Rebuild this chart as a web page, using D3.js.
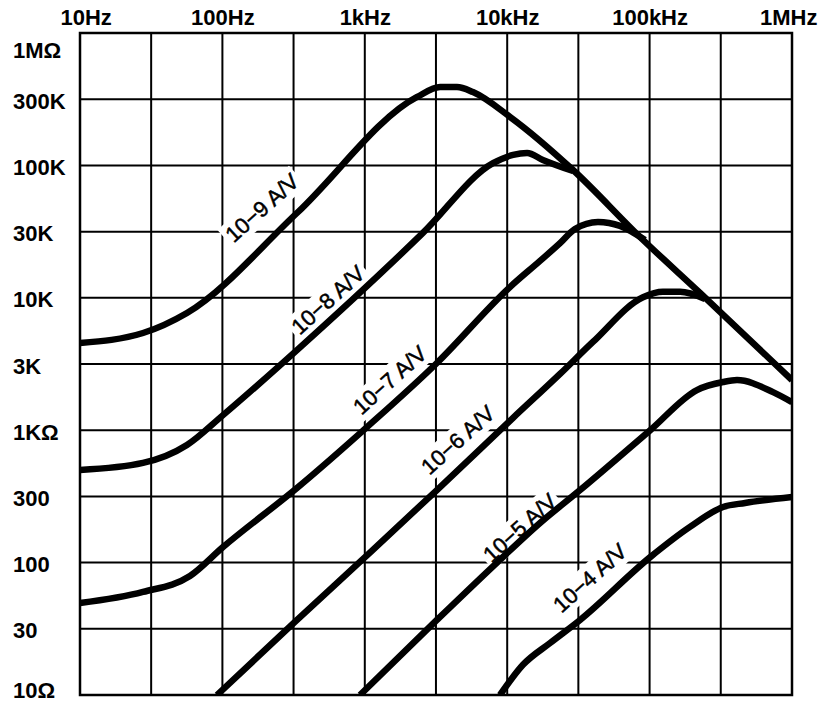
<!DOCTYPE html>
<html lang="en">
<head>
<meta charset="UTF-8">
<title>Transimpedance vs frequency</title>
<script src="https://d3js.org/d3.v7.min.js"></script>
<style>
  body { margin: 0; background: #fff; }
</style>
</head>
<body>
<div id="chart"></div>
<script>
// grid at half decades, labels on them
var xTicks = [10, 31.6, 100, 316, 1e3, 3160, 1e4, 31600, 1e5, 316000, 1e6];
var xLabels = ["10Hz", "", "100Hz", "", "1kHz", "", "10kHz", "", "100kHz", "", "1MHz"];
var yTicks = [10, 31.6, 100, 316, 1e3, 3160, 1e4, 31600, 1e5, 316000, 1e6];
var yLabels = ["10\u03A9", "30", "100", "300", "1K\u03A9", "3K", "10K", "30K", "100K", "300K", "1M\u03A9"];

// curves: [frequency (Hz), impedance (ohm)]
var gain9 = [[10, 4560], [27.7, 5420], [56.4, 7680], [334, 43700], [2330, 329000], [3380, 391000],
             [4440, 391000], [5750, 358000], [10500, 232000], [29000, 92300], [85600, 28800],
             [226000, 10900], [1000000, 2390]];
var gain8 = [[10, 501], [27.7, 566], [56.4, 773], [101, 1300], [334, 4030], [2560, 30900],
             [7950, 104000], [11000, 120000], [13800, 124000], [17800, 110000], [29000, 90700]];
var gain7 = [[10, 49.5], [27.7, 60], [59.2, 79.2], [101, 131], [334, 366], [1040, 1060],
             [3210, 3220], [10500, 12100], [17000, 19000], [23500, 25900], [29900, 33100],
             [43400, 37400], [62000, 34900], [92800, 27300]];
var gain6 = [[91.6, 10], [323, 35.6], [1040, 114], [3210, 353], [11000, 1240], [23500, 2660],
             [40000, 4640], [89900, 10100], [124000, 11100], [164000, 11100], [245000, 9790]];
var gain5 = [[925, 10], [3210, 36.9], [8900, 105], [17000, 199], [32500, 353], [101000, 1000],
             [215000, 2010], [328000, 2310], [411000, 2390], [736000, 1940], [1000000, 1630]];
var gain4 = [[8900, 10], [12900, 16.9], [20000, 24.7], [32500, 36.9], [101000, 110],
             [192000, 186], [328000, 263], [468000, 282], [1000000, 313]];

var curves = [gain9, gain8, gain7, gain6, gain5, gain4];
var curveNames = ["10\u22129 A/V", "10\u22128 A/V", "10\u22127 A/V", "10\u22126 A/V", "10\u22125 A/V", "10\u22124 A/V"];
// label centres [frequency, impedance]
var labelAt = [[190, 47700], [552, 9620], [1500, 2390], [4510, 843], [12300, 183], [38100, 76.5]];

var margin = {top: 33, right: 27, bottom: 7, left: 80},
    width = 819 - margin.left - margin.right,
    height = 702 - margin.top - margin.bottom;

var svg = d3.select("#chart")
    .append("svg")
    .attr("width", width + margin.left + margin.right)
    .attr("height", height + margin.top + margin.bottom)
    .append("g")
    .attr("transform", "translate(" + margin.left + "," + margin.top + ")");

var x = d3.scaleLog().domain([10, 1e6]).range([0, width]);
var y = d3.scaleLog().domain([10, 1e6]).range([height, 0]);

// grid
svg.append("g")
    .selectAll("line")
    .data(xTicks)
    .join("line")
    .attr("x1", function(d) { return x(d); })
    .attr("x2", function(d) { return x(d); })
    .attr("y1", 0)
    .attr("y2", height)
    .attr("stroke", "#000")
    .attr("stroke-width", 2);

svg.append("g")
    .selectAll("line")
    .data(yTicks)
    .join("line")
    .attr("y1", function(d) { return y(d); })
    .attr("y2", function(d) { return y(d); })
    .attr("x1", 0)
    .attr("x2", width)
    .attr("stroke", "#000")
    .attr("stroke-width", 2);

svg.append("rect")
    .attr("width", width)
    .attr("height", height)
    .attr("fill", "none")
    .attr("stroke", "#000")
    .attr("stroke-width", 2.5);

// X labels on top
var xAxis = svg.append("g")
    .call(d3.axisTop(x).tickValues(xTicks).tickFormat(function(d, i) { return xLabels[i]; })
        .tickSize(0).tickPadding(8));
xAxis.select(".domain").remove();
xAxis.selectAll("text")
    .attr("font-family", "'Liberation Sans', Arial, Helvetica, sans-serif")
    .attr("font-size", 22)
    .attr("font-weight", "bold")
    .attr("fill", "#000");
xAxis.selectAll(".tick").filter(function(d) { return d === 10; }).select("text")
    .attr("text-anchor", "start").attr("x", -20);
xAxis.selectAll(".tick").filter(function(d) { return d === 1e6; }).select("text")
    .attr("text-anchor", "end").attr("x", 25);

// Y labels on the left
var yAxis = svg.append("g")
    .call(d3.axisLeft(y).tickValues(yTicks).tickFormat(function(d, i) { return yLabels[i]; })
        .tickSize(0));
yAxis.select(".domain").remove();
yAxis.selectAll("text")
    .attr("font-family", "'Liberation Sans', Arial, Helvetica, sans-serif")
    .attr("font-size", 22)
    .attr("font-weight", "bold")
    .attr("fill", "#000")
    .attr("text-anchor", "start")
    .attr("x", -67)
    .attr("y", function(d) { return d === 1e6 ? 17 : (d === 10 ? -5 : 2); });

// white boxes behind the curve labels (they cut the grid), then curves, then text
var masks = svg.append("g");

svg.append("clipPath").attr("id", "plotclip")
    .append("rect").attr("x", -1).attr("y", -1).attr("width", width + 2).attr("height", height + 2);

var line = d3.line()
    .x(function(d) { return x(d[0]); })
    .y(function(d) { return y(d[1]); })
    .curve(d3.curveMonotoneX);

svg.append("g")
    .attr("clip-path", "url(#plotclip)")
    .selectAll("path")
    .data(curves)
    .join("path")
    .attr("d", line)
    .attr("fill", "none")
    .attr("stroke", "#000")
    .attr("stroke-width", 6.5)
    .attr("stroke-linejoin", "round");

var labels = svg.append("g");
curveNames.forEach(function(name, i) {
    var tr = "translate(" + x(labelAt[i][0]) + "," + y(labelAt[i][1]) + ") rotate(-42)";
    var t = labels.append("text")
        .attr("transform", tr)
        .attr("text-anchor", "middle")
        .attr("dominant-baseline", "central")
        .attr("font-family", "'Liberation Sans', Arial, Helvetica, sans-serif")
        .attr("font-size", 22)
        .attr("fill", "#000")
        .attr("stroke", "#000")
        .attr("stroke-width", 0.5)
        .text(name);
    var b = t.node().getBBox();
    masks.append("rect")
        .attr("transform", tr)
        .attr("x", b.x - 3)
        .attr("y", b.y - 1)
        .attr("width", b.width + 6)
        .attr("height", b.height + 2)
        .attr("fill", "#fff");
});
</script>
</body>
</html>
